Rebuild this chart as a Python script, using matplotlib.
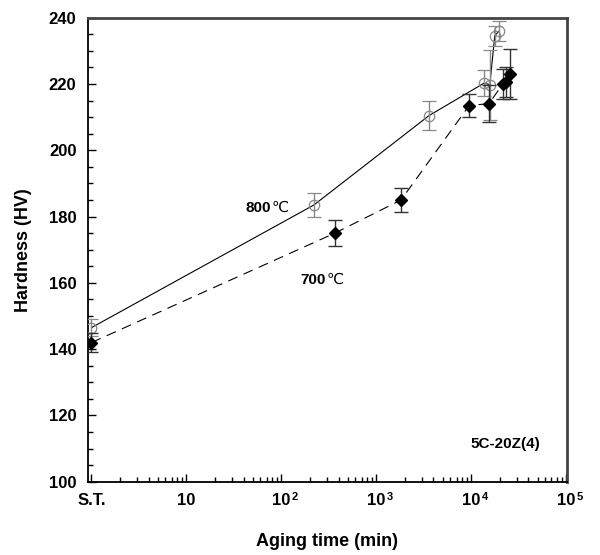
import numpy as np
import matplotlib
matplotlib.use("Agg")
import matplotlib.pyplot as plt
from matplotlib.ticker import FixedLocator, LogLocator, MultipleLocator, NullFormatter

plt.rcParams["font.family"] = ["Liberation Sans", "DejaVu Sans"]

# 800 C series (open circles, solid line); S.T. plotted at x = 1
t800 = [1, 220, 3600, 13700, 15700, 17700, 19500]
hv800 = [146.5, 183.5, 210.5, 220.3, 219.8, 234.6, 235.9]
err800 = [2.5, 3.5, 4.5, 4.0, 10.5, 3.0, 3.0]

# 700 C series (filled diamonds, dashed line)
t700 = [1, 365, 1820, 9500, 15400, 21600, 23400, 25800]
hv700 = [142.0, 175.0, 185.0, 213.5, 214.1, 220.1, 220.5, 223.1]
err700 = [3.0, 4.0, 3.6, 3.4, 5.5, 4.5, 4.5, 7.6]

xticks = [1, 10, 100, 1000, 10000, 100000]
xtick_labels = ["S.T.", "10", "10", "10", "10", "10"]
xtick_exps = ["", "", "2", "3", "4", "5"]
yticks = [100, 120, 140, 160, 180, 200, 220, 240]

fig = plt.figure(figsize=(6, 5.55), dpi=100)
ax = fig.add_axes([0.146, 0.132, 0.799, 0.836])

ax.plot(t800, hv800, color="black", lw=0.8, zorder=2)
ax.plot(t700, hv700, color="black", lw=0.8, ls=(0, (9, 6)), zorder=2)

ax.errorbar(t800, hv800, yerr=err800, fmt="o", mfc="none", mec="#888888",
            mew=0.9, ms=7.5, ecolor="#888888", elinewidth=1.0, capsize=5,
            capthick=1.0, zorder=3)
ax.errorbar(t700, hv700, yerr=err700, fmt="D", mfc="black", mec="black",
            ms=6.5, ecolor="#333333", elinewidth=1.0, capsize=5,
            capthick=1.0, zorder=4)

ax.set_xscale("log")
ax.set_xlim(0.91, 1.02e5)
ax.set_ylim(100, 240)

ax.xaxis.set_major_locator(FixedLocator(xticks))
ax.set_xticklabels(xtick_labels)
ax.xaxis.set_minor_locator(LogLocator(base=10, subs=np.arange(2, 10)))
ax.xaxis.set_minor_formatter(NullFormatter())
ax.set_yticks(yticks)
ax.yaxis.set_minor_locator(MultipleLocator(5))

ax.tick_params(axis="both", which="major", direction="in", length=6,
               width=1, labelsize=12, pad=8)
ax.tick_params(axis="both", which="minor", direction="in", length=3.5, width=1)
ax.tick_params(top=False, right=False, which="both")
for lab in ax.get_xticklabels() + ax.get_yticklabels():
    lab.set_fontweight("bold")

# exponents of the decade labels
for xt, ex in zip(xticks, xtick_exps):
    if ex:
        ax.annotate(ex, xy=(xt, 0), xycoords=("data", "axes fraction"),
                    xytext=(7.5, -11), textcoords="offset points",
                    ha="left", va="center", fontsize=8, fontweight="bold")

for side in ["left", "bottom"]:
    ax.spines[side].set_linewidth(1.3)
for side in ["top", "right"]:
    ax.spines[side].set_linewidth(2.0)
    ax.spines[side].set_color("#444444")

ax.set_xlabel("Aging time (min)", fontsize=13, fontweight="bold", labelpad=18)
ax.set_ylabel("Hardness (HV)", fontsize=13, fontweight="bold", labelpad=12)

ax.text(78, 182.7, "800", fontsize=11, fontweight="bold", ha="right", va="center")
ax.text(79, 182.7, "\u2103", fontsize=11, ha="left", va="center")
ax.text(296, 160.8, "700", fontsize=11, fontweight="bold", ha="right", va="center")
ax.text(299, 160.8, "\u2103", fontsize=11, ha="left", va="center")
ax.text(23000, 111.5, "5C-20Z(4)", fontsize=11, fontweight="bold",
        ha="center", va="center")

fig.savefig("out.png", dpi=100)
